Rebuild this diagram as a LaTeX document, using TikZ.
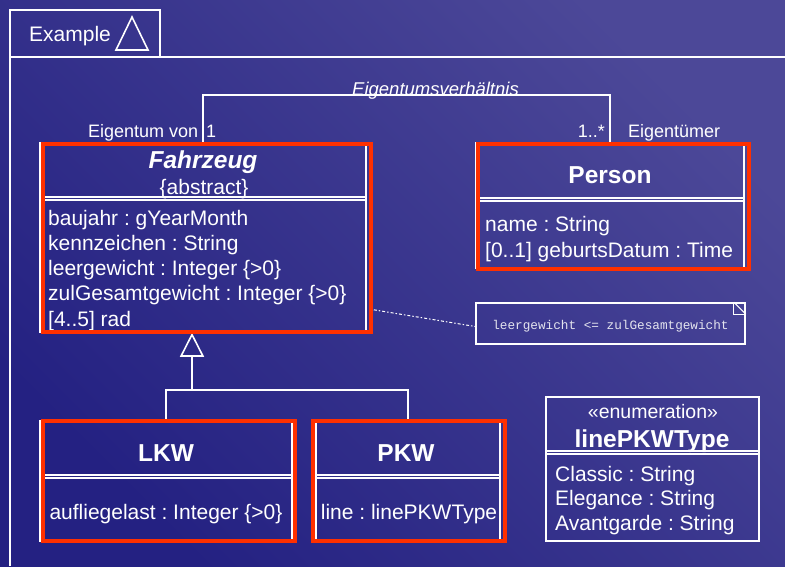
\documentclass[tikz,border=0pt]{standalone}
\usepackage{fontspec}
\setmainfont{Liberation Sans}
\setmonofont{Liberation Mono}
\usetikzlibrary{arrows.meta,positioning,calc}
\definecolor{UMLBgDark}{RGB}{36,33,130}
\definecolor{UMLBgLight}{RGB}{76,72,152}
\definecolor{UMLRed}{RGB}{255,48,0}
\definecolor{UMLNote}{RGB}{228,228,238}
\frenchspacing

\begin{document}
\begin{tikzpicture}[x=1pt,y=1pt,
    umlline/.style={draw=white, line width=1.6pt},
    classbox/.style={umlline, rectangle, inner sep=0pt},
    hilite/.style={draw=UMLRed, line width=4.5pt},
    attr/.style={anchor=base west, inner sep=0pt, text=white, font=\fontsize{21}{24}\selectfont},
    cattr/.style={attr, anchor=base},
    cname/.style={anchor=base, inner sep=0pt, text=white, font=\fontsize{24.5}{28}\selectfont\bfseries},
    rolelabel/.style={anchor=base west, inner sep=0pt, text=white, font=\fontsize{18}{21}\selectfont},
    notebox/.style={umlline, rectangle, inner sep=0pt, text=UMLNote, font=\ttfamily\fontsize{12.7}{15}\selectfont},
    noteline/.style={draw=white, line width=1pt, dash pattern=on 3pt off 2pt on 1.5pt off 2pt}
  ]
    \useasboundingbox (0,0) rectangle (785,-566);
    \shade[bottom color=UMLBgDark, top color=UMLBgLight, shading angle=-45] (0,0) rectangle (785,-566);
    % frame with tab
    \draw[umlline] (10,-566) -- (10,-57) -- (785,-57);
    \draw[umlline] (10,-57) -- (10,-10) -- (160,-10) -- (160,-57);
    \node[attr] (frametitle) at (29,-41) {Example};
    \draw[umlline] (116,-50) -- (132,-17) -- (148,-50) -- cycle;

    % Fahrzeug
    \node[classbox, minimum width=326pt, minimum height=189pt] (fahrzeug) at (203,-237.5) {};
    \draw[umlline] ([yshift=-55pt]fahrzeug.north west) -- ([yshift=-55pt]fahrzeug.north east);
    \draw[umlline] ([yshift=-58pt]fahrzeug.north west) -- ([yshift=-58pt]fahrzeug.north east);
    \node[cname, font=\fontsize{24.5}{28}\selectfont\bfseries\itshape] (fzname) at (203,-168) {Fahrzeug};
    \node[cattr] (fzstereo) at (204,-194) {\{abstract\}};
    \node[attr] (fzbaujahr) at (48,-225) {baujahr : gYearMonth};
    \node[attr] (fzkennz) at (48,-250) {kennzeichen : String};
    \node[attr] (fzleer) at (48,-275) {leergewicht : Integer \{>0\}};
    \node[attr] (fzzul) at (48,-300) {zulGesamtgewicht : Integer \{>0\}};
    \node[attr] (fzrad) at (48,-326) {[4..5] rad};

    % Person
    \node[classbox, minimum width=268pt, minimum height=125pt] (person) at (610,-205.5) {};
    \draw[umlline] ([yshift=-56pt]person.north west) -- ([yshift=-56pt]person.north east);
    \draw[umlline] ([yshift=-59pt]person.north west) -- ([yshift=-59pt]person.north east);
    \node[cname] (psname) at (610,-183) {Person};
    \node[attr] (psname2) at (485,-231) {name : String};
    \node[attr] (psgeb) at (485,-257) {[0..1] geburtsDatum : Time};

    % association
    \draw[umlline] (fahrzeug.north) -- ++(0,47) -| (person.north);
    \node[rolelabel, anchor=base, font=\fontsize{18.5}{21}\selectfont\itshape] (assocname) at (435.5,-95) {Eigentumsverhältnis};
    \node[rolelabel] (roleA) at (88,-137) {Eigentum von};
    \node[rolelabel] (multA) at (206,-137) {1};
    \node[rolelabel, anchor=base east] (multB) at (605,-137) {1..*};
    \node[rolelabel] (roleB) at (628,-137) {Eigentümer};

    % constraint note
    \node[notebox, minimum width=269pt, minimum height=41pt, text height=11pt, text depth=0pt] (constr) at (610.5,-323.5) {leergewicht <= zulGesamtgewicht};
    \draw[umlline, line width=1.2pt] ([xshift=-12pt]constr.north east) rectangle ([yshift=-12pt]constr.north east);
    \draw[umlline, line width=1.2pt] ([xshift=-12pt]constr.north east) -- ([yshift=-12pt]constr.north east);
    \draw[noteline] ([xshift=7pt,yshift=23pt]fahrzeug.south east) -- ([yshift=-3pt]constr.west);

    % LKW, PKW
    \node[classbox, minimum width=252pt, minimum height=120pt] (lkw) at (166,-481) {};
    \draw[umlline] ([yshift=-55pt]lkw.north west) -- ([yshift=-55pt]lkw.north east);
    \draw[umlline] ([yshift=-58pt]lkw.north west) -- ([yshift=-58pt]lkw.north east);
    \node[cname] (lkwname) at (166,-461) {LKW};
    \node[cattr] (lkwlast) at (166,-519) {aufliegelast : Integer \{>0\}};

    \node[classbox, minimum width=184pt, minimum height=120pt] (pkw) at (408,-481) {};
    \draw[umlline] ([yshift=-55pt]pkw.north west) -- ([yshift=-55pt]pkw.north east);
    \draw[umlline] ([yshift=-58pt]pkw.north west) -- ([yshift=-58pt]pkw.north east);
    \node[cname] (pkwname) at (406,-461) {PKW};
    \node[cattr] (pkwline) at (409,-519) {line : linePKWType};

    % generalization
    \coordinate (genjoin) at (192,-390);
    \draw[umlline] (lkw.north) |- (genjoin) -| (pkw.north);
    \draw[umlline, -{Triangle[open, length=24pt, width=24pt]}] (genjoin) -- (genjoin |- fahrzeug.south);

    % enumeration
    \node[classbox, minimum width=213pt, minimum height=144pt] (linetype) at (652.5,-469) {};
    \draw[umlline] ([yshift=-55pt]linetype.north west) -- ([yshift=-55pt]linetype.north east);
    \draw[umlline] ([yshift=-58pt]linetype.north west) -- ([yshift=-58pt]linetype.north east);
    \node[cattr, font=\fontsize{19.5}{23}\selectfont] (ltstereo) at (653,-418) {«enumeration»};
    \node[cname] (ltname) at (652,-447) {linePKWType};
    \node[attr] (ltclassic) at (555,-481) {Classic : String};
    \node[attr] (ltelegance) at (555,-505) {Elegance : String};
    \node[attr] (ltavant) at (555,-530) {Avantgarde : String};

    % highlights
    \draw[hilite] (43,-144) rectangle (371,-332);
    \draw[hilite] (478,-144) rectangle (749,-269);
    \draw[hilite] (43,-421) rectangle (295,-541);
    \draw[hilite] (313,-421) rectangle (505,-541);
  \end{tikzpicture}
\end{document}
